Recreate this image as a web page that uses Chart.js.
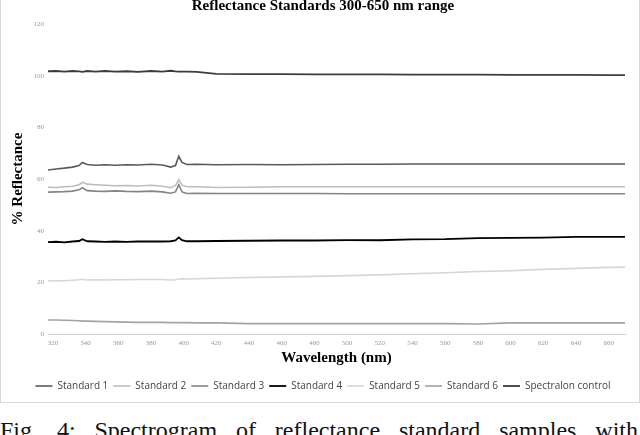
<!DOCTYPE html>
<html>
<head>
<meta charset="utf-8">
<script src="https://cdn.jsdelivr.net/npm/chart.js@4"></script>
<style>
  body { margin: 0; background: #fff; width: 640px; height: 435px; overflow: hidden; position: relative; }
  #box { position: absolute; left: 0; top: -8px; width: 638px; height: 409px; border: 1px solid #d9d9d9; }
  #caption { position: absolute; left: 0; top: 418px; width: 638px; font: 24px/24px "Liberation Serif", serif;
             color: #111; text-align: justify; text-align-last: justify; white-space: nowrap; }
</style>
</head>
<body>
<div id="box"><canvas id="chart"></canvas></div>
<div id="caption">Fig.&nbsp; 4:&nbsp; Spectrogram&nbsp; of&nbsp; reflectance&nbsp; standard&nbsp; samples&nbsp; with</div>
<script>
// 波长 (nm)
const wavelengths = [317, 322, 327, 332, 336, 338, 341, 346, 352, 358, 365, 372, 380, 387, 392, 395, 397, 399, 402, 408,
                     420, 440, 460, 480, 500, 520, 540, 560, 580, 600, 620, 640, 660, 670];
const xTicks = [320, 340, 360, 380, 400, 420, 440, 460, 480, 500, 520, 540, 560, 580, 600, 620, 640, 660];

// 各标准的反射率 (%)
const standard1 = [63.5, 63.9, 64.2, 64.6, 65.2, 66.4, 65.6, 65.3, 65.5, 65.3, 65.5, 65.4, 65.7, 65.4, 64.6, 65.2, 68.8, 66.4, 65.6, 65.7,
                   65.5, 65.6, 65.5, 65.6, 65.7, 65.7, 65.8, 65.8, 65.8, 65.8, 65.8, 65.8, 65.8, 65.8];
const standard2 = [56.8, 56.7, 57.0, 57.2, 57.8, 58.7, 58.0, 57.8, 57.6, 57.4, 57.5, 57.3, 57.6, 57.2, 56.6, 57.5, 59.8, 57.6, 57.0, 57.0,
                   56.7, 56.8, 57.0, 57.0, 57.0, 57.0, 57.0, 57.0, 57.0, 57.0, 57.0, 57.0, 57.0, 57.0];
const standard3 = [54.9, 55.0, 55.1, 55.3, 55.8, 56.6, 55.5, 55.3, 55.2, 55.4, 55.2, 55.1, 55.3, 55.0, 54.5, 55.0, 57.8, 55.0, 54.4, 54.5,
                   54.4, 54.4, 54.4, 54.4, 54.3, 54.3, 54.3, 54.3, 54.3, 54.3, 54.3, 54.3, 54.3, 54.3];
const standard4 = [35.6, 35.7, 35.5, 35.8, 36.0, 36.7, 35.9, 35.8, 35.7, 35.8, 35.7, 35.8, 35.8, 35.8, 35.9, 36.2, 37.4, 36.3, 35.9, 35.9,
                   36.0, 36.1, 36.2, 36.2, 36.3, 36.3, 36.6, 36.7, 37.1, 37.2, 37.3, 37.6, 37.6, 37.6];
const standard5 = [20.5, 20.6, 20.6, 20.8, 21.0, 21.2, 20.9, 21.0, 20.9, 21.0, 21.0, 21.1, 21.1, 21.1, 20.9, 21.0, 21.3, 21.4, 21.3, 21.4,
                   21.6, 21.9, 22.1, 22.3, 22.6, 22.9, 23.3, 23.7, 24.2, 24.5, 25.0, 25.4, 25.8, 25.9];
const standard6 = [5.4, 5.4, 5.3, 5.2, 5.1, 5.0, 5.0, 4.9, 4.8, 4.7, 4.6, 4.5, 4.5, 4.5, 4.4, 4.4, 4.4, 4.4, 4.4, 4.3,
                   4.3, 4.0, 4.0, 4.0, 4.0, 4.0, 4.0, 4.0, 3.9, 4.3, 4.3, 4.3, 4.3, 4.3];
const spectralon = [101.7, 101.8, 101.6, 101.8, 101.7, 101.5, 101.8, 101.6, 101.8, 101.6, 101.7, 101.5, 101.8, 101.6, 101.9, 101.7, 101.6, 101.6, 101.6, 101.5,
                    100.7, 100.6, 100.6, 100.5, 100.5, 100.5, 100.4, 100.4, 100.4, 100.3, 100.3, 100.3, 100.2, 100.2];

const seriesNames = ['Standard 1', 'Standard 2', 'Standard 3', 'Standard 4', 'Standard 5', 'Standard 6', 'Spectralon control'];
const seriesData = [standard1, standard2, standard3, standard4, standard5, standard6, spectralon];
const seriesColors = ['#5a5a5a', '#bdbdbd', '#858585', '#000000', '#d6d6d6', '#a3a3a3', '#3c3c3c'];
const seriesWidths = [1.6, 1.6, 1.6, 1.8, 1.6, 1.6, 1.8];

const datasets = seriesNames.map((name, i) => ({
    label: name,
    data: seriesData[i].map((v, j) => ({ x: wavelengths[j], y: v })),
    borderColor: seriesColors[i],
    backgroundColor: seriesColors[i],
    borderWidth: seriesWidths[i],
    pointRadius: 0,
    tension: 0
}));

const serif = '"Liberation Serif", "Times New Roman", serif';

new Chart(document.getElementById('chart'), {
    type: 'line',
    data: { datasets: datasets },
    options: {
        responsive: true,
        maintainAspectRatio: false,
        animation: false,
        layout: { padding: { left: 20, right: 14, top: 0, bottom: 1 } },
        plugins: {
            title: {
                display: true,
                text: 'Reflectance Standards 300-650 nm range',
                color: '#000',
                font: { family: serif, size: 15, weight: 'bold' },
                padding: { top: 4.5, bottom: 8.5 }
            },
            legend: {
                position: 'bottom',
                labels: {
                    usePointStyle: true,
                    pointStyle: 'line',
                    pointStyleWidth: 17,
                    color: '#444',
                    font: { family: '"Open Sans", sans-serif', size: 10 },
                    padding: 5
                }
            },
            tooltip: { enabled: false }
        },
        scales: {
            x: {
                type: 'linear',
                min: 317,
                max: 670,
                afterBuildTicks: scale => { scale.ticks = xTicks.map(v => ({ value: v })); },
                afterFit: scale => { scale.height = 42; },
                ticks: { color: '#999', font: { family: serif, size: 7 }, maxRotation: 0, padding: 5 },
                grid: { display: false, drawTicks: false },
                border: { display: true, color: '#d0d0d0', dash: [1, 1], width: 1 },
                title: { display: true, text: 'Wavelength (nm)', color: '#000',
                         font: { family: serif, size: 15, weight: 'bold' }, padding: { top: 0, bottom: 9 } }
            },
            y: {
                min: 0,
                max: 120,
                afterFit: scale => { scale.width = 27; },
                ticks: { stepSize: 20, color: '#999', font: { family: serif, size: 7 }, padding: 4 },
                grid: { display: false, drawTicks: false },
                border: { display: false },
                title: { display: true, text: '% Reflectance', color: '#000',
                         font: { family: serif, size: 15, weight: 'bold' }, padding: { top: -12, bottom: 4 } }
            }
        }
    }
});
</script>
</body>
</html>
